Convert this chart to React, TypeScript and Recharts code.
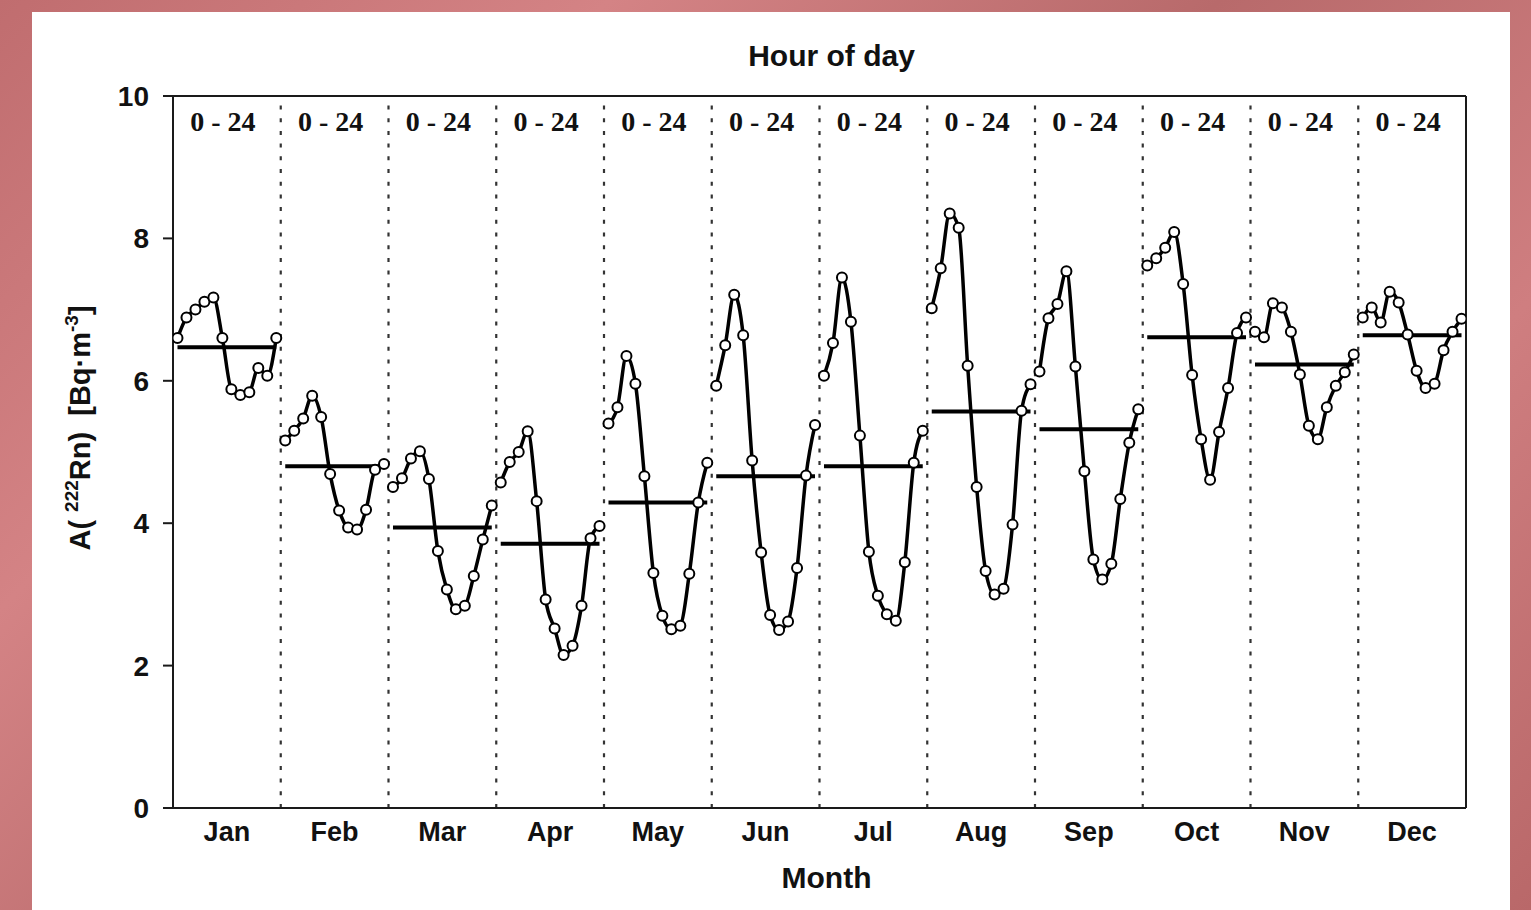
import React from 'react';
import { LineChart, Line, XAxis, YAxis, ReferenceLine } from 'recharts';

const monthNames = ['Jan', 'Feb', 'Mar', 'Apr', 'May', 'Jun', 'Jul', 'Aug', 'Sep', 'Oct', 'Nov', 'Dec'];
const hours = [1, 3, 5, 7, 9, 11, 13, 15, 17, 19, 21, 23];
const yTicks = [0, 2, 4, 6, 8, 10];
const hourLabel = '0 - 24';

const jan = [6.60, 6.89, 7.00, 7.11, 7.17, 6.60, 5.88, 5.80, 5.84, 6.18, 6.07, 6.60];
const feb = [5.16, 5.30, 5.47, 5.79, 5.49, 4.69, 4.18, 3.94, 3.91, 4.19, 4.75, 4.83];
const mar = [4.51, 4.63, 4.91, 5.01, 4.62, 3.61, 3.07, 2.79, 2.84, 3.26, 3.77, 4.25];
const apr = [4.57, 4.86, 5.00, 5.29, 4.31, 2.93, 2.52, 2.15, 2.28, 2.84, 3.79, 3.96];
const may = [5.40, 5.63, 6.35, 5.96, 4.66, 3.30, 2.70, 2.51, 2.56, 3.29, 4.29, 4.85];
const jun = [5.93, 6.50, 7.21, 6.64, 4.88, 3.59, 2.71, 2.50, 2.62, 3.37, 4.67, 5.38];
const jul = [6.07, 6.53, 7.45, 6.83, 5.23, 3.60, 2.98, 2.72, 2.63, 3.45, 4.85, 5.30];
const aug = [7.02, 7.58, 8.35, 8.15, 6.21, 4.51, 3.33, 3.00, 3.08, 3.98, 5.58, 5.95];
const sep = [6.13, 6.88, 7.08, 7.54, 6.20, 4.73, 3.49, 3.21, 3.43, 4.34, 5.13, 5.60];
const oct = [7.62, 7.72, 7.87, 8.09, 7.36, 6.08, 5.18, 4.61, 5.28, 5.90, 6.67, 6.89];
const nov = [6.69, 6.61, 7.09, 7.03, 6.69, 6.09, 5.37, 5.18, 5.63, 5.93, 6.12, 6.37];
const dec = [6.89, 7.03, 6.82, 7.25, 7.10, 6.65, 6.14, 5.90, 5.96, 6.43, 6.69, 6.87];
const monthlyMeans = [6.47, 4.80, 3.94, 3.71, 4.29, 4.66, 4.80, 5.57, 5.32, 6.61, 6.23, 6.64];

const monthSeries = [jan, feb, mar, apr, may, jun, jul, aug, sep, oct, nov, dec];

// Build a single table: x = month index * 24 + hour of day
const tableData: any[] = [];
monthSeries.forEach((vals, m) => {
  hours.forEach((h, i) => {
    const row: any = { x: m * 24 + h };
    row['m' + m] = vals[i];
    if (i === 0 || i === hours.length - 1) row['mean' + m] = monthlyMeans[m];
    tableData.push(row);
  });
});

const monthTicks = monthNames.map((_, m) => m * 24 + 12);
const separators = monthNames.slice(1).map((_, m) => (m + 1) * 24);

const SANS = '"Liberation Sans", Arial, Helvetica, sans-serif';
const SERIF = '"Liberation Serif", "Times New Roman", serif';
const NB = '\u00A0';

const TopTitle = (props: any) => {
  const vb = props.viewBox || { x: 0, y: 0, width: 0 };
  return (
    <text x={vb.x + vb.width / 2 + 12} y={vb.y - 30} textAnchor="middle" fontFamily={SANS} fontWeight="bold" fontSize={30} fill="#111">
      Hour of day
    </text>
  );
};

const BottomTitles = (props: any) => {
  const vb = props.viewBox || { x: 0, y: 0, width: 0 };
  const yx = vb.x - 83;
  const yy = vb.y - 380;
  return (
    <g>
      <text x={vb.x + vb.width / 2 + 7} y={vb.y + 80} textAnchor="middle" fontFamily={SANS} fontWeight="bold" fontSize={30} fill="#111">
        Month
      </text>
      <text x={yx} y={yy} transform={`rotate(-90 ${yx} ${yy})`} textAnchor="middle" fontFamily={SANS} fontWeight="bold" fontSize={29} fill="#111">
        {'A(' + NB}
        <tspan fontSize={19} dy={-12}>222</tspan>
        <tspan fontSize={29} dy={12}>{'Rn)' + NB + NB + '[Bq·m'}</tspan>
        <tspan fontSize={19} dy={-12}>-3</tspan>
        <tspan fontSize={29} dy={12}>]</tspan>
      </text>
    </g>
  );
};

const HourLabel = (props: any) => {
  const vb = props.viewBox || { x: 0, y: 0 };
  return (
    <text x={vb.x - 4} y={vb.y + 35} textAnchor="middle" fontFamily={SERIF} fontWeight="bold" fontSize={28} fill="#111">
      {hourLabel}
    </text>
  );
};

export default function App() {
  return (
    <div style={{ position: 'absolute', left: 0, top: 0, width: 1531, height: 910, overflow: 'hidden',
      background: 'linear-gradient(135deg, #c06d6f 0%, #d48385 25%, #b86a6b 50%, #cf7e80 75%, #b96869 100%)' }}>
      <div style={{ position: 'absolute', left: 32, top: 12, width: 1478, height: 898, background: '#ffffff' }} />
      <div style={{ position: 'absolute', left: 0, top: 0 }}>
        <LineChart width={1531} height={910} data={tableData} margin={{ top: 96, right: 65, bottom: 62, left: 93 }}>
          <XAxis
            dataKey="x"
            type="number"
            domain={[0, 288]}
            ticks={monthTicks}
            tickFormatter={(v: number) => monthNames[Math.round((v - 12) / 24)]}
            tickLine={false}
            tickSize={0}
            tickMargin={14}
            height={40}
            axisLine={{ stroke: '#1a1a1a', strokeWidth: 2 }}
            tick={{ fontSize: 27, fontWeight: 'bold', fill: '#111', fontFamily: SANS }}
            allowDataOverflow
          />
          <YAxis
            type="number"
            domain={[0, 10]}
            ticks={yTicks}
            width={80}
            tickSize={10}
            tickMargin={14}
            tickLine={{ stroke: '#1a1a1a', strokeWidth: 2 }}
            axisLine={{ stroke: '#1a1a1a', strokeWidth: 2 }}
            tick={{ fontSize: 28, fontWeight: 'bold', fill: '#111', fontFamily: SANS }}
          />
          {separators.map((s) => (
            <ReferenceLine key={'sep' + s} x={s} stroke="#333" strokeWidth={2.2} strokeDasharray="4 8.7" />
          ))}
          {monthTicks.map((t) => (
            <ReferenceLine key={'hl' + t} x={t} stroke="none" strokeOpacity={0} label={HourLabel} />
          ))}
          <ReferenceLine y={10} stroke="#1a1a1a" strokeWidth={2} label={TopTitle} />
          <ReferenceLine x={288} stroke="#1a1a1a" strokeWidth={2} />
          <ReferenceLine y={0} stroke="#1a1a1a" strokeWidth={2} label={BottomTitles} />
          {monthNames.map((_, m) => (
            <Line
              key={'mean' + m}
              dataKey={'mean' + m}
              type="linear"
              stroke="#000"
              strokeWidth={4}
              dot={false}
              activeDot={false}
              connectNulls
              isAnimationActive={false}
            />
          ))}
          {monthNames.map((_, m) => (
            <Line
              key={'m' + m}
              dataKey={'m' + m}
              type="monotone"
              stroke="#000"
              strokeWidth={3.5}
              dot={{ r: 5, fill: '#fff', stroke: '#000', strokeWidth: 2 }}
              activeDot={false}
              connectNulls
              isAnimationActive={false}
            />
          ))}
        </LineChart>
      </div>
    </div>
  );
}
